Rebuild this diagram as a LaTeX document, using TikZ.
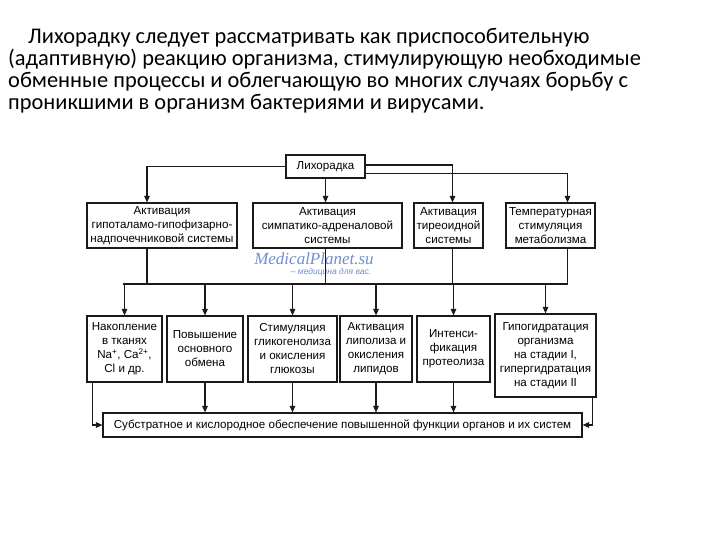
\documentclass[tikz,border=0pt]{standalone}
\usepackage{fontspec}
\setmainfont{Carlito}
\newfontfamily\diagfont{Liberation Sans}
\newfontfamily\markfont{Liberation Serif}
\usetikzlibrary{arrows.meta,positioning}
\definecolor{feverInk}{HTML}{1a1a1a}
\definecolor{feverMark}{HTML}{6f8fcf}
\tikzset{
  >={Triangle[length=6.5pt,width=5.5pt]},
  blk/.style={draw=feverInk, line width=1.1pt, fill=white, align=center,
              font=\diagfont\fontsize{11.6}{14}\selectfont, inner sep=1pt},
  link/.style={draw=feverInk, line width=1.2pt},
  arr/.style={link, ->},
  wmark/.style={text=feverMark, inner sep=0pt},
}
\begin{document}
\begin{tikzpicture}[x=1pt,y=-1pt]
  \useasboundingbox[fill=white] (0,0) rectangle (720,540);
  % heading text
  \node[anchor=north west, align=left, inner sep=0pt,
        font=\fontsize{22.4}{22}\selectfont] (intro) at (8,28)
    {\hspace*{20pt}Лихорадку следует рассматривать как приспособительную\\
     (адаптивную) реакцию организма, стимулирующую необходимые\\
     обменные процессы и облегчающую во многих случаях борьбу с\\
     проникшими в организм бактериями и вирусами.};
  % top
  \node[blk, minimum width=79pt, minimum height=23pt] (fever) at (325.5,166.5) {Лихорадка};
  % first row
  \node[blk, minimum width=150pt, minimum height=45pt] (actHyp) at (162,225.5)
    {Активация\\гипоталамо-гипофизарно-\\надпочечниковой системы};
  \node[blk, minimum width=149pt, minimum height=45pt] (actSym) at (327.5,225.5)
    {Активация\\симпатико-адреналовой\\системы};
  \node[blk, minimum width=69pt, minimum height=45pt] (actThy) at (448.5,225.5)
    {Активация\\тиреоидной\\системы};
  \node[blk, minimum width=89pt, minimum height=45pt] (actTemp) at (550.5,225.5)
    {Температурная\\стимуляция\\метаболизма};
  % watermark
  \node[wmark, font=\markfont\itshape\fontsize{17}{17}\selectfont] (markA) at (314,259) {MedicalPlanet.su};
  \node[wmark, font=\diagfont\itshape\fontsize{8.5}{9}\selectfont] (markB) at (331,272) {– медицина для вас.};
  % second row
  \node[blk, minimum width=75pt, minimum height=66pt] (effNa) at (124.5,349)
    {Накопление\\в тканях\\Na\textsuperscript{+}, Ca\textsuperscript{2+},\\Cl и др.};
  \node[blk, minimum width=76pt, minimum height=66pt] (effBase) at (205,349)
    {Повышение\\основного\\обмена};
  \node[blk, minimum width=89pt, minimum height=66pt] (effGly) at (292.5,349)
    {Стимуляция\\гликогенолиза\\и окисления\\глюкозы};
  \node[blk, minimum width=72pt, minimum height=66pt] (effLip) at (376,349)
    {Активация\\липолиза и\\окисления\\липидов};
  \node[blk, minimum width=73pt, minimum height=66pt] (effProt) at (453.5,349)
    {Интенси-\\фикация\\протеолиза};
  \node[blk, minimum width=101pt, minimum height=83pt] (effHyd) at (545.5,355.5)
    {Гипогидратация\\организма\\на стадии I,\\гипергидратация\\на стадии II};
  % bottom
  \node[blk, minimum width=479pt, minimum height=24pt] (supply) at (342.5,425)
    {Субстратное и кислородное обеспечение повышенной функции органов и их систем};

  \draw[arr] (fever.west) -| ([xshift=-15pt]actHyp.north);
  \draw[arr] (fever.south) -- (fever.south |- actSym.north);
  \draw[arr] ([yshift=-7pt]fever.east) -| ([xshift=17pt]actTemp.north);
  \draw[arr] ([yshift=1.5pt]fever.east) -| ([xshift=4pt]actThy.north);

  \coordinate (busL) at (123,284);
  \coordinate (busR) at (567.5,284);
  \draw[link] (busL) -- (busR);
  \foreach \n/\dx in {actHyp/-15, actSym/-2, actThy/4, actTemp/17}
    \draw[link] ([xshift=\dx pt]\n.south) -- ([xshift=\dx pt]\n.south |- busL);
  \foreach \n in {effNa, effBase, effGly, effLip, effProt, effHyd}
    \draw[arr] (\n.north |- busL) -- (\n.north);

  \foreach \n in {effBase, effGly, effLip, effProt}
    \draw[arr] (\n.south) -- (\n.south |- supply.north);
  \draw[arr] ([xshift=-32pt]effNa.south) |- (supply.west);
  \draw[arr] ([xshift=47pt]effHyd.south) |- (supply.east);
\end{tikzpicture}
\end{document}
